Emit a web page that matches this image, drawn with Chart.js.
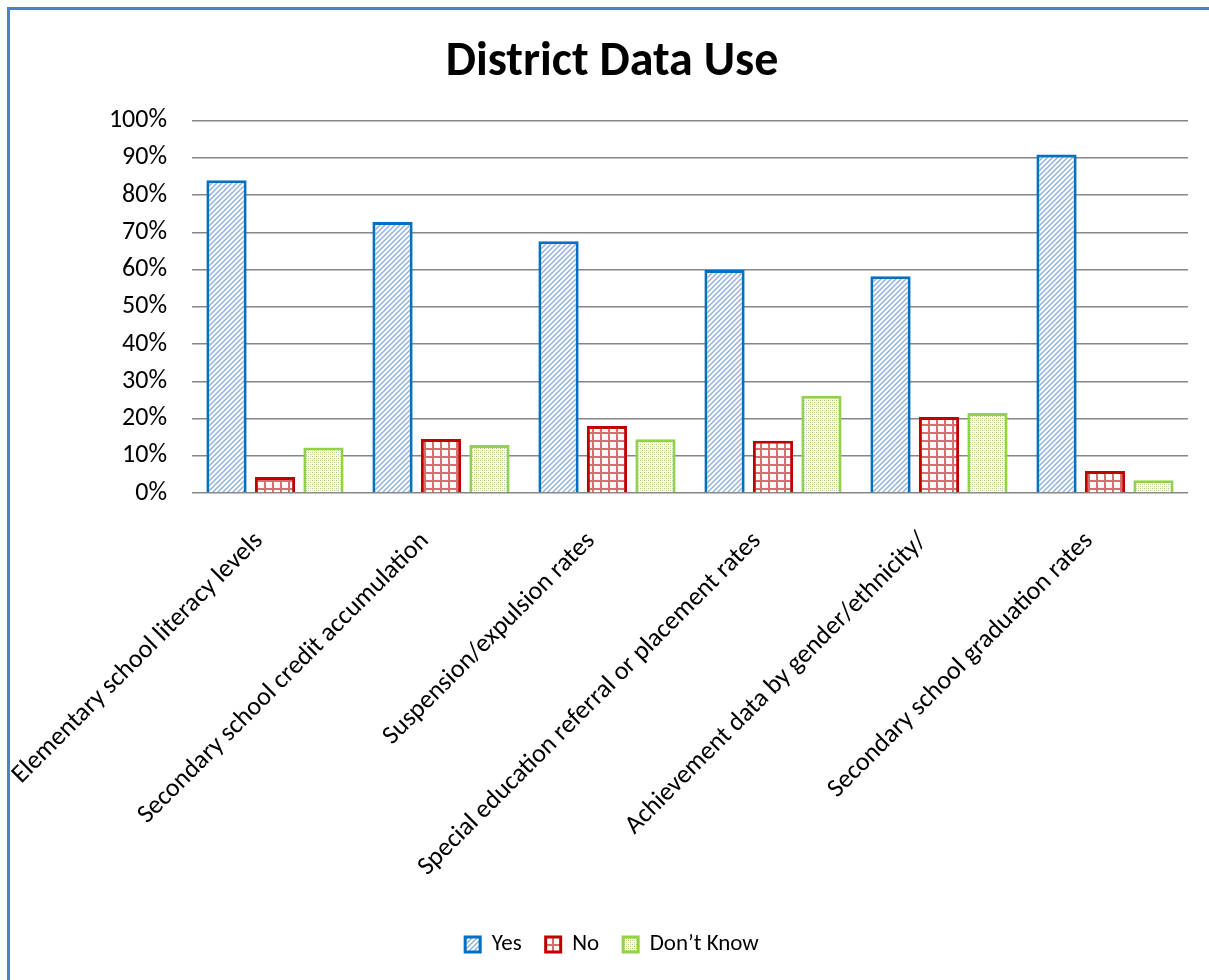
<!DOCTYPE html>
<html>
<head>
<meta charset="utf-8">
<title>District Data Use</title>
<script src="https://cdn.jsdelivr.net/npm/chart.js@4.4.1/dist/chart.umd.min.js"></script>
<style>
  html, body { margin: 0; padding: 0; background: #fff; }
  #wrap { position: relative; width: 1209px; height: 980px; overflow: hidden; }
  #frame {
    position: absolute; left: 7px; top: 7px; right: -10px; bottom: -10px;
    border-top: 3px solid #4f81bd; border-left: 3px solid #4f81bd;
    pointer-events: none;
  }
  canvas { position: absolute; left: 0; top: 0; }
</style>
</head>
<body>
<div id="wrap">
  <canvas id="chart" width="1209" height="980"></canvas>
  <div id="frame"></div>
</div>
<script>
const categories = [
  'Elementary school literacy levels',
  'Secondary school credit accumulation',
  'Suspension/expulsion rates',
  'Special education referral or placement rates',
  'Achievement data by gender/ethnicity/',
  'Secondary school graduation rates'
];
const yesValues = [84, 72.8, 67.6, 59.9, 58.2, 90.9];
const noValues = [4.3, 14.5, 18, 14, 20.4, 5.9];
const dontKnowValues = [12.2, 12.9, 14.4, 26.1, 21.5, 3.4];
const yTicks = [0, 10, 20, 30, 40, 50, 60, 70, 80, 90, 100];

const FONT = 'Carlito, Calibri, Lato, sans-serif';

// small tiles used as fill patterns for the bars
function tile(size, draw) {
  const c = document.createElement('canvas');
  c.width = c.height = size;
  const g = c.getContext('2d');
  g.fillStyle = '#fff';
  g.fillRect(0, 0, size, size);
  draw(g, size);
  return g.createPattern(c, 'repeat');
}

const ctx = document.getElementById('chart').getContext('2d');

const stripes = tile(5, (g, s) => {
  g.strokeStyle = 'rgb(140,176,222)';
  g.lineWidth = 1.4;
  g.beginPath();
  g.moveTo(-1, s + 1); g.lineTo(s + 1, -1);
  g.moveTo(-1, 1); g.lineTo(1, -1);
  g.moveTo(s - 1, s + 1); g.lineTo(s + 1, s - 1);
  g.stroke();
});

const grid = tile(8, (g, s) => {
  g.fillStyle = 'rgb(214,110,110)';
  g.fillRect(0, 0, s, 2);
  g.fillRect(0, 0, 2, s);
});

const dots = tile(4, (g) => {
  g.fillStyle = 'rgb(160,206,110)';
  g.fillRect(0, 0, 1, 1);
  g.fillRect(2, 2, 1, 1);
  g.fillStyle = 'rgb(205,232,175)';
  g.fillRect(2, 0, 1, 1);
  g.fillRect(0, 2, 1, 1);
});

new Chart(ctx, {
  type: 'bar',
  data: {
    labels: categories,
    datasets: [
      { label: 'Yes', data: yesValues, backgroundColor: stripes, borderColor: '#0070c0', borderWidth: 3 },
      { label: 'No', data: noValues, backgroundColor: grid, borderColor: '#c00000', borderWidth: 3 },
      { label: 'Don\u2019t Know', data: dontKnowValues, backgroundColor: dots, borderColor: '#92d050', borderWidth: 3 }
    ]
  },
  options: {
    responsive: false,
    animation: false,
    layout: { padding: { top: 24, right: 21, bottom: 14, left: 36 } },
    datasets: {
      bar: { categoryPercentage: 0.876, barPercentage: 0.83 }
    },
    plugins: {
      title: {
        display: true,
        text: 'District Data Use',
        color: '#000',
        font: { family: FONT, size: 48, weight: 'bold' },
        padding: { top: 10, bottom: 29 }
      },
      legend: {
        position: 'bottom',
        labels: {
          color: '#000',
          font: { family: FONT, size: 23 },
          boxWidth: 15,
          boxHeight: 15,
          padding: 24
        }
      },
      tooltip: { enabled: false }
    },
    scales: {
      x: {
        grid: { display: false },
        border: { display: false },
        ticks: {
          color: '#000',
          font: { family: FONT, size: 26 },
          maxRotation: 45,
          minRotation: 45,
          autoSkip: false,
          padding: 25,
          labelOffset: -16
        },
        afterFit(scale) {
          // rotated labels may hang past the plot edge; keep the plot width fixed
          scale.height = 416;
          scale.paddingLeft = 0;
          scale.paddingRight = 0;
        }
      },
      y: {
        min: 0,
        max: 100,
        afterBuildTicks(scale) { scale.ticks = yTicks.map(v => ({ value: v })); },
        grid: { color: '#868686', lineWidth: 1.4, drawTicks: false },
        border: { display: false },
        ticks: {
          color: '#000',
          font: { family: FONT, size: 26 },
          padding: 25,
          callback: v => v + '%'
        },
        afterFit(scale) { scale.width = 156; }
      }
    }
  }
});
</script>
</body>
</html>
